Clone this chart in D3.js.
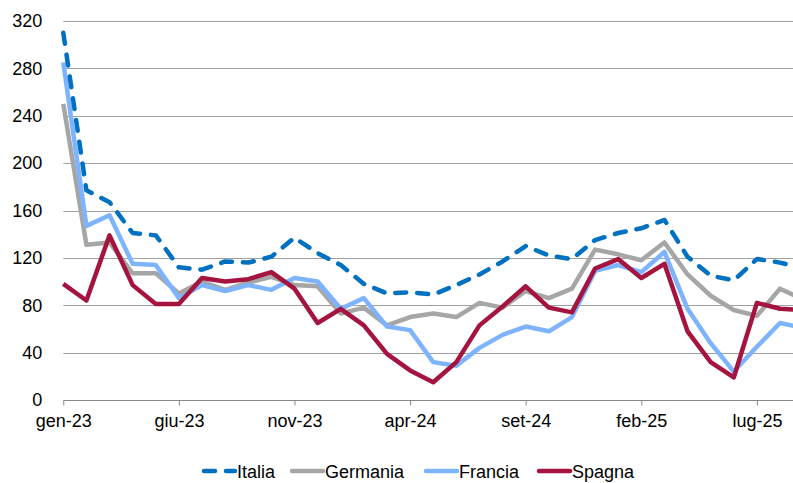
<!DOCTYPE html>
<html>
<head>
<meta charset="utf-8">
<script src="https://cdn.jsdelivr.net/npm/d3@7"></script>
<style>
  html, body { margin: 0; padding: 0; background: #fff; }
  svg { display: block; font-family: "Liberation Sans", Arial, sans-serif; }
</style>
</head>
<body>
<svg id="chart" width="793" height="483"></svg>
<script>
// ---- data ----
const months = ["gen-23","feb-23","mar-23","apr-23","mag-23","giu-23","lug-23","ago-23","set-23","ott-23","nov-23","dic-23",
                "gen-24","feb-24","mar-24","apr-24","mag-24","giu-24","lug-24","ago-24","set-24","ott-24","nov-24","dic-24",
                "gen-25","feb-25","mar-25","apr-25","mag-25","giu-25","lug-25","ago-25","set-25"];
const italia   = [310,177,167,141,139,112,110,117,116,121,137,124,114,98,90,91,89,97,106,117,130,122,119,135,141,145,152,121,105,101,119,116,111];
const germania = [250,131,133,107,107,90,100,93,99,104,97,96,73,78,63,70,73,70,82,78,92,86,94,127,123,118,133,106,88,76,71,94,85];
const francia  = [285,147,156,115,114,86,97,92,97,93,103,100,77,86,62,59,32,29,44,55,62,58,70,109,114,108,125,77,48,24,45,65,61];
const spagna   = [98,84,139,97,81,81,103,100,102,108,94,65,77,63,39,25,15,32,63,79,96,78,74,111,119,103,115,58,32,19,82,77,76];
const yTicks = [0,40,80,120,160,200,240,280,320];
const xTickIdx = [0,5,10,15,20,25,30];
const seriesNames = ["Italia","Germania","Francia","Spagna"];

// ---- layout ----
const svg = d3.select("#chart");
const W = 793;
const x0 = 63.3, step = 23.12;
const x = d3.scaleLinear().domain([0, months.length - 1]).range([x0, x0 + step * (months.length - 1)]);
const y = d3.scaleLinear().domain([0, 320]).range([400, 21]);

const styles = {
  Italia:   {color: "#0070C0", dash: "11,11", data: italia},
  Germania: {color: "#A6A6A6", dash: null, data: germania},
  Francia:  {color: "#7DB3FF", dash: null, data: francia},
  Spagna:   {color: "#A5143F", dash: null, data: spagna}
};

// gridlines
svg.append("g")
  .selectAll("line")
  .data(yTicks.filter(d => d > 0))
  .join("line")
  .attr("x1", x0).attr("x2", W)
  .attr("y1", d => Math.round(y(d)) + 0.5).attr("y2", d => Math.round(y(d)) + 0.5)
  .attr("stroke", "#A0A0A0").attr("stroke-width", 1);

// y axis labels
const yAxis = d3.axisLeft(y).tickValues(yTicks).tickSize(0).tickPadding(21).tickFormat(d3.format("d"));
const gy = svg.append("g").attr("transform", `translate(${x0},0)`).call(yAxis);
gy.select(".domain").remove();
gy.selectAll("text").attr("font-size", 18).attr("fill", "#000").attr("font-family", "Liberation Sans, Arial, sans-serif");

// x axis
const xAxis = d3.axisBottom(x).tickValues(xTickIdx).tickSize(5).tickSizeOuter(0).tickPadding(9)
  .tickFormat(i => months[i]);
const gx = svg.append("g").attr("transform", "translate(0,400.5)").call(xAxis);
gx.select(".domain").attr("stroke", "#888").attr("d", `M${x0},0H${W}`);
gx.selectAll(".tick line").attr("stroke", "#888");
gx.selectAll("text").attr("font-size", 18).attr("fill", "#000").attr("font-family", "Liberation Sans, Arial, sans-serif");

// lines
const line = d3.line().x((d, i) => x(i)).y(d => y(d));
const drawOrder = ["Germania","Francia","Spagna","Italia"];
svg.append("g")
  .selectAll("path")
  .data(drawOrder)
  .join("path")
  .attr("d", n => line(styles[n].data))
  .attr("fill", "none")
  .attr("stroke", n => styles[n].color)
  .attr("stroke-width", 4.5)
  .attr("stroke-linejoin", "round")
  .attr("stroke-linecap", n => styles[n].dash ? "round" : "butt")
  .attr("stroke-dasharray", n => styles[n].dash);

// legend
const legendX = [204, 292, 426, 539];
const lg = svg.append("g").selectAll("g").data(seriesNames).join("g")
  .attr("transform", (d, i) => `translate(${legendX[i]},471)`);
lg.append("line")
  .attr("x1", 0).attr("x2", 31).attr("y1", 0).attr("y2", 0)
  .attr("stroke", d => styles[d].color)
  .attr("stroke-width", 4.5)
  .attr("stroke-linecap", "round")
  .attr("stroke-dasharray", d => styles[d].dash);
lg.append("text")
  .attr("x", 33).attr("y", 6.5)
  .attr("font-size", 18).attr("fill", "#000")
  .text(d => d);
</script>
</body>
</html>
